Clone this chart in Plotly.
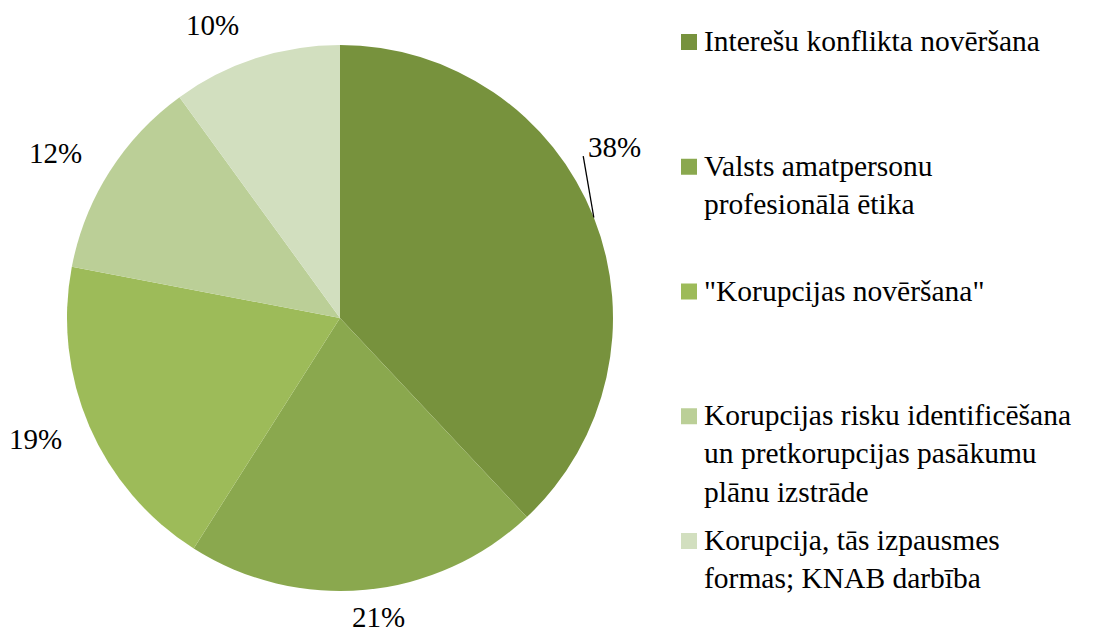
import math
import plotly.graph_objects as go

labels = [
    "Interešu konflikta novēršana",
    "Valsts amatpersonu<br>profesionālā ētika",
    "\"Korupcijas novēršana\"",
    "Korupcijas risku identificēšana<br>un pretkorupcijas pasākumu<br>plānu izstrāde",
    "Korupcija, tās izpausmes<br>formas; KNAB darbība",
]
values = [38, 21, 19, 12, 10]
colors = ["#77923D", "#8AA84E", "#9DBB59", "#BBCF97", "#D2DFBF"]

W, H = 1104, 636
FONT = "Liberation Serif"
FS = 29

# pie geometry (pixels)
PCX, PCY, R = 340, 318, 273

fig = go.Figure()
fig.add_trace(go.Pie(
    labels=labels,
    values=values,
    sort=False,
    direction="clockwise",
    rotation=0,
    marker=dict(colors=colors, line=dict(width=0)),
    textinfo="none",
    domain=dict(x=[(PCX - R) / W, (PCX + R) / W], y=[1 - (PCY + R) / H, 1 - (PCY - R) / H]),
    showlegend=False,
    hoverinfo="label+percent",
))

annotations = []
shapes = []

def px(x):
    return x / W

def py(y):
    return 1 - y / H

# percentage labels placed outside the slices
total = sum(values)
cum = 0
for i, v in enumerate(values):
    mid = (cum + v / 2) / total * 2 * math.pi
    cum += v
    dx, dy = math.sin(mid), -math.cos(mid)
    txt = f"{round(v / total * 100)}%"
    ex, ey = PCX + R * dx, PCY + R * dy
    if i == 0:
        # label moved upward, joined to its slice by a leader line
        shapes.append(dict(type="line", xref="paper", yref="paper",
                           x0=px(ex), y0=py(ey), x1=px(ex - 10.6), y1=py(ey - 61.3),
                           line=dict(color="black", width=1.3)))
        lx, ly = ex + 20.5, ey - 70
    else:
        ox = 54 * max(-1.0, min(1.0, 2.6 * dx))
        oy = 34 * dy
        lx, ly = ex + ox, ey + oy
    ly = min(ly, H - 18)  # keep the text inside the picture
    annotations.append(dict(xref="paper", yref="paper", x=px(lx), y=py(ly - 1),
                            xanchor="center", yanchor="middle", showarrow=False,
                            text=txt, font=dict(family=FONT, size=FS, color="black")))

# legend
sq = 16
x_sq = 681
x_txt = 702
for i, (lab, col) in enumerate(zip(labels, colors)):
    cy = 42 + i * 124.75
    shapes.append(dict(type="rect", xref="paper", yref="paper",
                       x0=px(x_sq), x1=px(x_sq + sq),
                       y0=py(cy + sq / 2), y1=py(cy - sq / 2),
                       fillcolor=col, line=dict(width=0)))
    annotations.append(dict(xref="paper", yref="paper", x=px(x_txt),
                            y=py(cy - 19), xanchor="left", yanchor="top",
                            text=lab, showarrow=False, align="left",
                            font=dict(family=FONT, size=29.5, color="black")))

fig.update_layout(
    width=W, height=H,
    margin=dict(l=0, r=0, t=0, b=0),
    paper_bgcolor="white",
    plot_bgcolor="white",
    shapes=shapes,
    annotations=annotations,
)

fig.write_html("out.html", config={"displayModeBar": False},
               post_script="document.body.style.margin='0';")
